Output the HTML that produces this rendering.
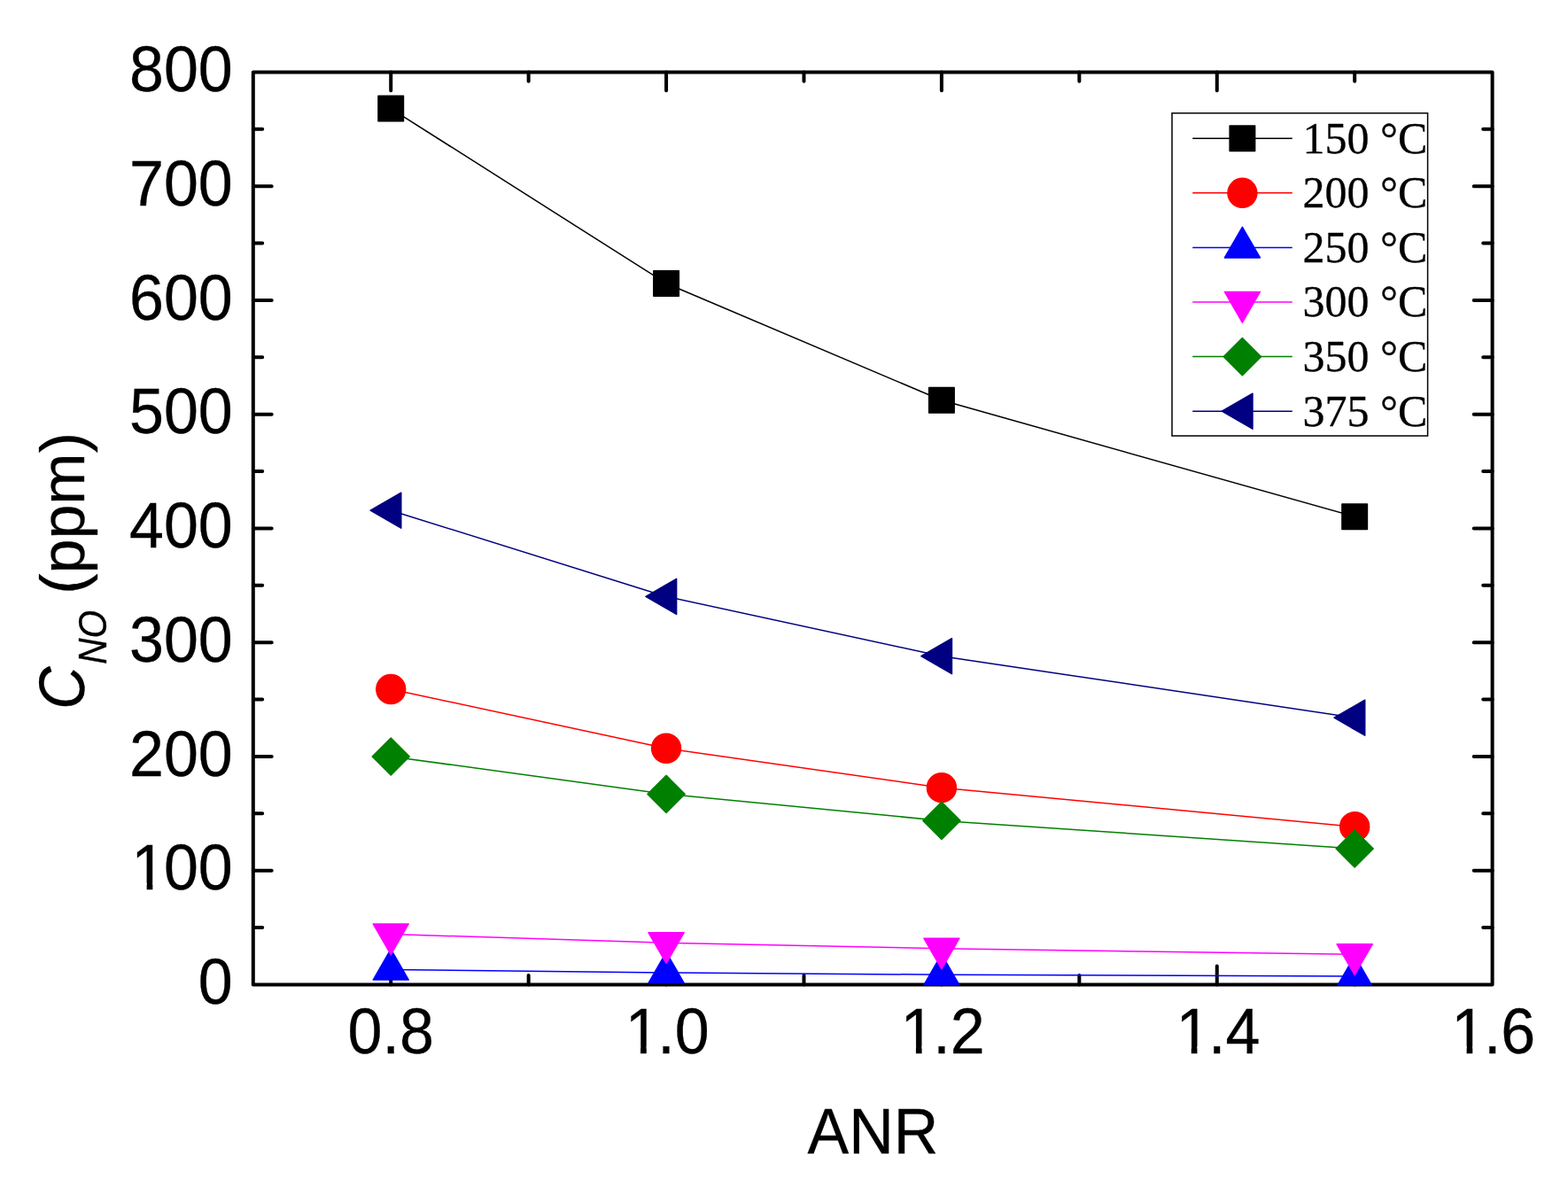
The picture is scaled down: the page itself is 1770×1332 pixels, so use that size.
<!DOCTYPE html>
<html lang="en"><head><meta charset="utf-8"><title>C_NO vs ANR</title>
<style>html,body{margin:0;padding:0;background:#fff}body{width:1770px;height:1332px;overflow:hidden}svg{display:block}.s{font-family:"Liberation Sans",Arial,Helvetica,sans-serif;font-size:70px;fill:#000;stroke:#000;stroke-width:0.3px}.t{font-family:"Liberation Serif","Times New Roman",Times,serif;font-size:50px;fill:#000;stroke:#000;stroke-width:0.3px}</style></head><body>
<svg width="1770" height="1332" viewBox="0 0 1770 1332">
<rect x="0" y="0" width="1770" height="1332" fill="#fff"/>
<g stroke="#000" stroke-width="4.00" stroke-linecap="round" stroke-linejoin="round" fill="none">
<rect x="285.80" y="81.45" width="1398.80" height="1030.05"/>
<path d="M441.22 1111.50v-20.90M441.22 81.45v20.90M596.64 1111.50v-10.40M596.64 81.45v10.40M752.07 1111.50v-20.90M752.07 81.45v20.90M907.49 1111.50v-10.40M907.49 81.45v10.40M1062.91 1111.50v-20.90M1062.91 81.45v20.90M1218.33 1111.50v-10.40M1218.33 81.45v10.40M1373.76 1111.50v-20.90M1373.76 81.45v20.90M1529.18 1111.50v-10.40M1529.18 81.45v10.40M285.80 1047.12h10.40M1684.60 1047.12h-10.40M285.80 982.74h20.90M1684.60 982.74h-20.90M285.80 918.37h10.40M1684.60 918.37h-10.40M285.80 853.99h20.90M1684.60 853.99h-20.90M285.80 789.61h10.40M1684.60 789.61h-10.40M285.80 725.23h20.90M1684.60 725.23h-20.90M285.80 660.85h10.40M1684.60 660.85h-10.40M285.80 596.48h20.90M1684.60 596.48h-20.90M285.80 532.10h10.40M1684.60 532.10h-10.40M285.80 467.72h20.90M1684.60 467.72h-20.90M285.80 403.34h10.40M1684.60 403.34h-10.40M285.80 338.96h20.90M1684.60 338.96h-20.90M285.80 274.58h10.40M1684.60 274.58h-10.40M285.80 210.21h20.90M1684.60 210.21h-20.90M285.80 145.83h10.40M1684.60 145.83h-10.40"/>
</g>
<defs><clipPath id="cp"><rect x="283.80" y="79.45" width="1402.80" height="1033.05"/></clipPath></defs>
<g clip-path="url(#cp)">
<polyline points="441.22,122.60 752.07,319.90 1062.91,451.80 1529.18,583.20" fill="none" stroke="#000000" stroke-width="1.5"/>
<g fill="#000000" stroke="#000000" stroke-width="1.50" stroke-linejoin="round">
<rect x="426.97" y="108.35" width="28.50" height="28.50"/>
<rect x="737.82" y="305.65" width="28.50" height="28.50"/>
<rect x="1048.66" y="437.55" width="28.50" height="28.50"/>
<rect x="1514.93" y="568.95" width="28.50" height="28.50"/>
</g>
<polyline points="441.22,778.00 752.07,844.75 1062.91,889.20 1529.18,933.20" fill="none" stroke="#ff0000" stroke-width="1.5"/>
<g fill="#ff0000" stroke="#ff0000" stroke-width="1.50" stroke-linejoin="round">
<circle cx="441.22" cy="778.00" r="16.45"/>
<circle cx="752.07" cy="844.75" r="16.45"/>
<circle cx="1062.91" cy="889.20" r="16.45"/>
<circle cx="1529.18" cy="933.20" r="16.45"/>
</g>
<polyline points="441.22,1094.50 752.07,1098.00 1062.91,1100.20 1529.18,1102.00" fill="none" stroke="#0000ff" stroke-width="1.5"/>
<g fill="#0000ff" stroke="#0000ff" stroke-width="1.50" stroke-linejoin="round">
<path d="M441.22 1071.41 L461.22 1106.05 L421.22 1106.05 Z"/>
<path d="M752.07 1074.91 L772.07 1109.55 L732.07 1109.55 Z"/>
<path d="M1062.91 1077.11 L1082.91 1111.75 L1042.91 1111.75 Z"/>
<path d="M1529.18 1078.91 L1549.18 1113.55 L1509.18 1113.55 Z"/>
</g>
<polyline points="441.22,1054.50 752.07,1064.30 1062.91,1070.70 1529.18,1077.30" fill="none" stroke="#ff00ff" stroke-width="1.5"/>
<g fill="#ff00ff" stroke="#ff00ff" stroke-width="1.50" stroke-linejoin="round">
<path d="M441.22 1077.59 L461.22 1042.95 L421.22 1042.95 Z"/>
<path d="M752.07 1087.39 L772.07 1052.75 L732.07 1052.75 Z"/>
<path d="M1062.91 1093.79 L1082.91 1059.15 L1042.91 1059.15 Z"/>
<path d="M1529.18 1100.39 L1549.18 1065.75 L1509.18 1065.75 Z"/>
</g>
<polyline points="441.22,854.00 752.07,896.40 1062.91,926.40 1529.18,958.00" fill="none" stroke="#008000" stroke-width="1.5"/>
<g fill="#008000" stroke="#008000" stroke-width="1.50" stroke-linejoin="round">
<path d="M441.22 833.00L462.22 854.00L441.22 875.00L420.22 854.00Z"/>
<path d="M752.07 875.40L773.07 896.40L752.07 917.40L731.07 896.40Z"/>
<path d="M1062.91 905.40L1083.91 926.40L1062.91 947.40L1041.91 926.40Z"/>
<path d="M1529.18 937.00L1550.18 958.00L1529.18 979.00L1508.18 958.00Z"/>
</g>
<polyline points="441.22,576.20 752.07,673.40 1062.91,740.70 1529.18,810.20" fill="none" stroke="#000080" stroke-width="1.5"/>
<g fill="#000080" stroke="#000080" stroke-width="1.50" stroke-linejoin="round">
<path d="M418.13 576.20 L452.77 556.20 L452.77 596.20 Z"/>
<path d="M728.97 673.40 L763.61 653.40 L763.61 693.40 Z"/>
<path d="M1039.82 740.70 L1074.46 720.70 L1074.46 760.70 Z"/>
<path d="M1506.08 810.20 L1540.72 790.20 L1540.72 830.20 Z"/>
</g>
</g>
<rect x="1323.00" y="127.70" width="288.60" height="364.30" fill="#fff" stroke="#000" stroke-width="1.5"/>
<path d="M1346.2 156.20H1458.8" stroke="#000000" stroke-width="1.5" fill="none"/>
<g fill="#000000" stroke="#000000" stroke-width="1.50" stroke-linejoin="round"><rect x="1388.15" y="141.95" width="28.50" height="28.50"/></g>
<text class="t" transform="translate(1470.6 172.60) scale(1 1.02)" xml:space="preserve">150 °C</text>
<path d="M1346.2 217.80H1458.8" stroke="#ff0000" stroke-width="1.5" fill="none"/>
<g fill="#ff0000" stroke="#ff0000" stroke-width="1.50" stroke-linejoin="round"><circle cx="1402.40" cy="217.80" r="16.45"/></g>
<text class="t" transform="translate(1470.6 234.20) scale(1 1.02)" xml:space="preserve">200 °C</text>
<path d="M1346.2 279.40H1458.8" stroke="#0000ff" stroke-width="1.5" fill="none"/>
<g fill="#0000ff" stroke="#0000ff" stroke-width="1.50" stroke-linejoin="round"><path d="M1402.40 256.31 L1422.40 290.95 L1382.40 290.95 Z"/></g>
<text class="t" transform="translate(1470.6 295.80) scale(1 1.02)" xml:space="preserve">250 °C</text>
<path d="M1346.2 341.00H1458.8" stroke="#ff00ff" stroke-width="1.5" fill="none"/>
<g fill="#ff00ff" stroke="#ff00ff" stroke-width="1.50" stroke-linejoin="round"><path d="M1402.40 364.09 L1422.40 329.45 L1382.40 329.45 Z"/></g>
<text class="t" transform="translate(1470.6 357.40) scale(1 1.02)" xml:space="preserve">300 °C</text>
<path d="M1346.2 402.60H1458.8" stroke="#008000" stroke-width="1.5" fill="none"/>
<g fill="#008000" stroke="#008000" stroke-width="1.50" stroke-linejoin="round"><path d="M1402.40 381.60L1423.40 402.60L1402.40 423.60L1381.40 402.60Z"/></g>
<text class="t" transform="translate(1470.6 419.00) scale(1 1.02)" xml:space="preserve">350 °C</text>
<path d="M1346.2 464.20H1458.8" stroke="#000080" stroke-width="1.5" fill="none"/>
<g fill="#000080" stroke="#000080" stroke-width="1.50" stroke-linejoin="round"><path d="M1379.31 464.20 L1413.95 444.20 L1413.95 484.20 Z"/></g>
<text class="t" transform="translate(1470.6 480.60) scale(1 1.02)" xml:space="preserve">375 °C</text>
<text class="s" transform="translate(223.87 1133.10) scale(1 1.025)">0</text>
<text class="s" transform="translate(146.01 1004.34) scale(1 1.025)" dx="2.3 -2.3">100</text>
<path fill="#fff" d="M151.31 996.78H165.66V1005.84H151.31ZM172.35 996.78H186.14V1005.84H172.35Z"/>
<text class="s" transform="translate(146.01 875.59) scale(1 1.025)">200</text>
<text class="s" transform="translate(146.01 746.83) scale(1 1.025)">300</text>
<text class="s" transform="translate(146.01 618.08) scale(1 1.025)">400</text>
<text class="s" transform="translate(146.01 489.32) scale(1 1.025)">500</text>
<text class="s" transform="translate(146.01 360.56) scale(1 1.025)">600</text>
<text class="s" transform="translate(146.01 231.81) scale(1 1.025)">700</text>
<text class="s" transform="translate(146.01 103.05) scale(1 1.025)">800</text>
<text class="s" transform="translate(392.57 1188.80) scale(1 1.025)">0.8</text>
<text class="s" transform="translate(703.41 1188.80) scale(1 1.025)" dx="2.3 -2.3">1.0</text>
<path fill="#fff" d="M708.71 1181.24H723.06V1190.30H708.71ZM729.75 1181.24H743.54V1190.30H729.75Z"/>
<text class="s" transform="translate(1014.26 1188.80) scale(1 1.025)" dx="2.3 -2.3">1.2</text>
<path fill="#fff" d="M1019.56 1181.24H1033.91V1190.30H1019.56ZM1040.60 1181.24H1054.39V1190.30H1040.60Z"/>
<text class="s" transform="translate(1325.10 1188.80) scale(1 1.025)" dx="2.3 -2.3">1.4</text>
<path fill="#fff" d="M1330.40 1181.24H1344.75V1190.30H1330.40ZM1351.44 1181.24H1365.23V1190.30H1351.44Z"/>
<text class="s" transform="translate(1635.95 1188.80) scale(1 1.025)" dx="2.3 -2.3">1.6</text>
<path fill="#fff" d="M1641.25 1181.24H1655.60V1190.30H1641.25ZM1662.28 1181.24H1676.08V1190.30H1662.28Z"/>
<text class="s" text-anchor="middle" transform="translate(985.5 1302) scale(1 1.02)">ANR</text>
<g transform="translate(94.6 800) rotate(-90)">
<text class="s" transform="translate(-0.7 0.6) scale(0.955 1.035)" font-style="italic">C</text>
<text class="s" transform="translate(50.2 25.8) scale(0.955 1.045)" font-style="italic" style="font-size:42.5px">NO</text>
<text class="s" x="129.2" y="0">(ppm)</text>
</g>
</svg></body></html>
